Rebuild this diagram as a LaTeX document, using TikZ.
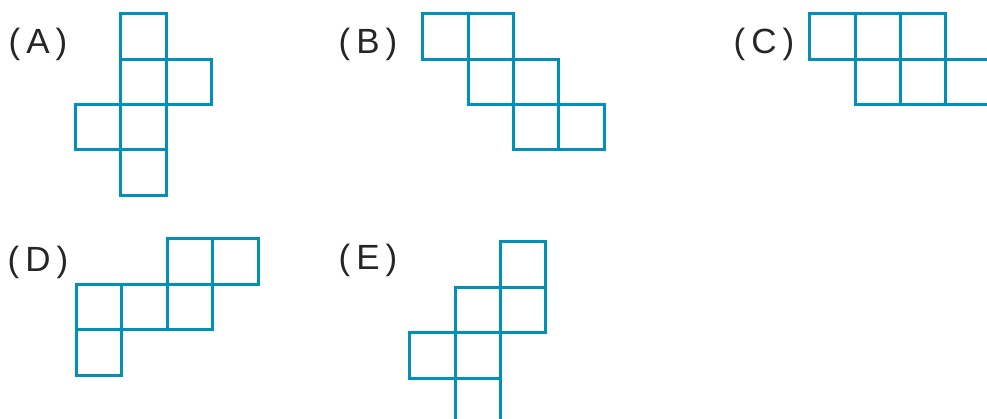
\documentclass[tikz,border=0pt]{standalone}
\usepackage{fontspec}
\setmainfont{Liberation Sans}
\definecolor{netblue}{RGB}{0,144,184}
\begin{document}
\begin{tikzpicture}[x=1pt,y=-1pt,
  sq/.style={draw=netblue,line width=3pt,line join=miter},
  lbl/.style={anchor=base,inner sep=0pt,font=\fontsize{35}{35}\selectfont,text=black!85}]
\useasboundingbox (0,0) rectangle (987,419);
\clip (0,0) rectangle (987,419);
\def\c{45.4}
\newcommand\cell[2]{\draw[sq] (#1,#2) rectangle ++(\c,\c);}
% labels
\node[lbl] (la) at (38,53.5) {(\hspace{6pt}A\hspace{6pt})};
\node[lbl] (lb) at (368,53.5) {(\hspace{6pt}B\hspace{6pt})};
\node[lbl] (lc) at (764,53.5) {(\hspace{6pt}C\hspace{6pt})};
\node[lbl] (ld) at (38,271.5) {(\hspace{6pt}D\hspace{6pt})};
\node[lbl] (le) at (368,269.5) {(\hspace{6pt}E\hspace{6pt})};
% A
\cell{120.6}{13.8}
\cell{120.6}{59.2}
\cell{166}{59.2}
\cell{75.2}{104.6}
\cell{120.6}{104.6}
\cell{120.6}{150}
% B
\cell{422.6}{13.8}
\cell{468}{13.8}
\cell{468}{59.2}
\cell{513.4}{59.2}
\cell{513.4}{104.6}
\cell{558.8}{104.6}
% C
\cell{809.6}{13.8}
\cell{855}{13.8}
\cell{900.4}{13.8}
\cell{855}{59.2}
\cell{900.4}{59.2}
\cell{945.8}{59.2}
% D
\cell{167.2}{239}
\cell{212.6}{239}
\cell{76.4}{284.4}
\cell{121.8}{284.4}
\cell{167.2}{284.4}
\cell{76.4}{329.8}
% E
\cell{500.4}{242}
\cell{455}{287.4}
\cell{500.4}{287.4}
\cell{409.6}{332.8}
\cell{455}{332.8}
\cell{455}{378.2}
\end{tikzpicture}
\end{document}
